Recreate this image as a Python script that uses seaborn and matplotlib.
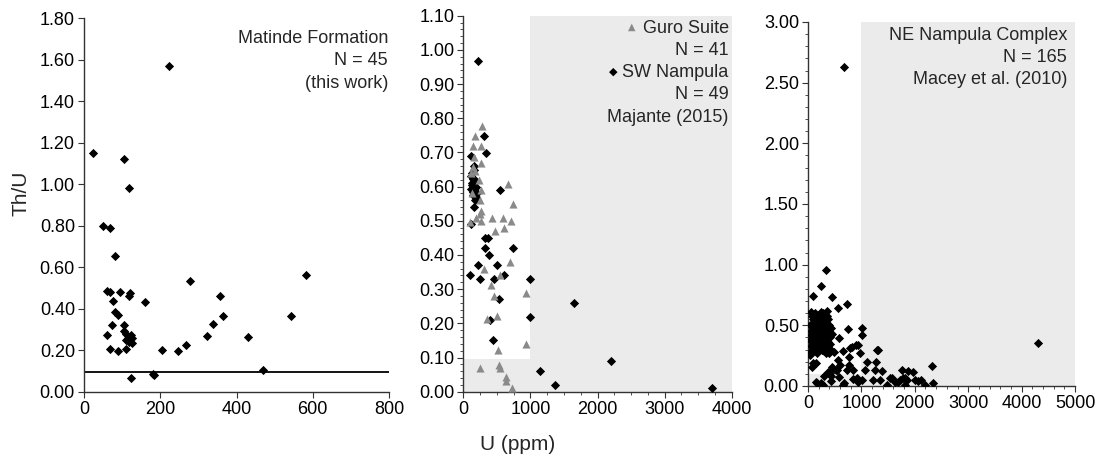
import numpy as np
import pandas as pd
import matplotlib
matplotlib.use('Agg')
import matplotlib.pyplot as plt
from matplotlib.ticker import MultipleLocator, FormatStrFormatter
import seaborn as sb

# Matinde Formation (this work)
mat_u = [24, 224, 105, 118, 49, 67, 80, 279, 581, 60, 67, 95, 117, 121, 161, 356, 76, 80, 88, 364,
         542, 73, 105, 339, 61, 105, 322, 431, 122, 125, 111, 126, 115, 267, 67, 89, 111, 205, 246,
         469, 180, 184, 124, 110, 119]
mat_thu = [1.151, 1.569, 1.12, 0.984, 0.80, 0.79, 0.654, 0.534, 0.563, 0.487, 0.48, 0.482, 0.464,
           0.476, 0.432, 0.46, 0.437, 0.384, 0.371, 0.365, 0.365, 0.321, 0.321, 0.329, 0.275, 0.292,
           0.27, 0.264, 0.275, 0.259, 0.251, 0.238, 0.262, 0.225, 0.207, 0.196, 0.207, 0.201, 0.198,
           0.108, 0.085, 0.084, 0.067, 0.28, 0.243]

# Guro Suite, Majante (2015)
guro_u = [278, 179, 144, 263, 159, 268, 114, 179, 238, 268, 661, 740, 104, 194, 263, 268, 427, 586,
          705, 472, 611, 700, 303, 547, 412, 457, 929, 353, 497, 934, 517, 253, 527, 547, 636, 631,
          726, 248, 134, 248, 149]
guro_thu = [0.778, 0.748, 0.72, 0.72, 0.687, 0.67, 0.639, 0.646, 0.619, 0.589, 0.608, 0.549, 0.497,
            0.509, 0.53, 0.50, 0.509, 0.509, 0.498, 0.47, 0.48, 0.38, 0.36, 0.34, 0.311, 0.281, 0.29,
            0.213, 0.221, 0.141, 0.121, 0.07, 0.077, 0.07, 0.042, 0.031, 0.012, 0.52, 0.58, 0.56, 0.658]

# SW Nampula, Majante (2015)
swn_u = [214, 313, 338, 114, 154, 139, 159, 114, 159, 189, 184, 542, 164, 119, 328, 363, 318, 745,
         388, 214, 507, 99, 601, 244, 457, 994, 527, 1645, 393, 989, 437, 1143, 2201, 1366, 3702,
         130, 145, 170, 125, 150, 175, 140, 165, 185, 120, 135, 160, 200, 180]
swn_thu = [0.968, 0.749, 0.699, 0.69, 0.66, 0.621, 0.611, 0.593, 0.59, 0.58, 0.57, 0.59, 0.54, 0.49,
           0.45, 0.45, 0.419, 0.42, 0.40, 0.37, 0.37, 0.341, 0.34, 0.33, 0.33, 0.33, 0.27, 0.26, 0.21,
           0.22, 0.151, 0.06, 0.09, 0.02, 0.011, 0.64, 0.6, 0.62, 0.605, 0.585, 0.595, 0.575, 0.615,
           0.6, 0.63, 0.61, 0.65, 0.58, 0.56]

# NE Nampula Complex, Macey et al. (2010)
nen_u = [40, 60, 75, 90, 100, 110, 120, 130, 60, 80, 95, 105, 115, 125, 135, 145, 155, 165, 175, 185,
         195, 205, 215, 225, 235, 245, 255, 265, 275, 285, 295, 305, 315, 325, 335, 345, 355, 365,
         375, 385, 395, 405, 415, 425, 435, 445, 50, 70, 85, 100, 120, 140, 150, 160, 170, 180, 190,
         200, 210, 220, 230, 240, 250, 260, 270, 280, 290, 300, 310, 320, 330, 340, 350, 360, 370,
         380, 400, 30, 45, 65, 110, 130, 145, 165, 190, 210, 240,
         667, 4302, 337, 249, 94, 443, 736, 556, 743, 1005, 1005, 587, 780, 905, 493, 56, 143, 81,
         762, 774, 556, 368, 524, 431, 587, 306, 150, 243, 431, 680, 930, 836, 1286, 1317, 974,
         1099, 1267, 1255, 1067, 1348, 1224, 1567, 1754, 1879, 1973, 1817, 1692, 1473, 1005, 911,
         1380, 1529, 1623, 1717, 2328, 2347, 1773, 1848, 2004, 2067, 2110, 2191, 1810, 162, 287,
         662, 818, 943, 655, 37, 100, 443, 599, 537, 724, 849, 412]
nen_thu = [0.28, 0.33, 0.38, 0.42, 0.45, 0.5, 0.55, 0.6, 0.61, 0.58, 0.55, 0.52, 0.47, 0.43, 0.4,
           0.36, 0.33, 0.3, 0.27, 0.35, 0.39, 0.44, 0.48, 0.53, 0.57, 0.61, 0.5, 0.45, 0.41, 0.37,
           0.33, 0.29, 0.36, 0.42, 0.47, 0.52, 0.58, 0.62, 0.55, 0.5, 0.45, 0.4, 0.35, 0.3, 0.48,
           0.43, 0.45, 0.5, 0.35, 0.3, 0.34, 0.46, 0.52, 0.57, 0.44, 0.49, 0.55, 0.31, 0.36, 0.41,
           0.46, 0.39, 0.34, 0.3, 0.56, 0.6, 0.52, 0.47, 0.44, 0.39, 0.33, 0.27, 0.4, 0.46, 0.36,
           0.31, 0.27, 0.38, 0.5, 0.42, 0.4, 0.48, 0.29, 0.38, 0.43, 0.5, 0.45,
           2.63, 0.357, 0.953, 0.824, 0.745, 0.731, 0.673, 0.64, 0.467, 0.481, 0.42, 0.393, 0.31,
           0.339, 0.283, 0.27, 0.187, 0.16, 0.242, 0.173, 0.214, 0.118, 0.13, 0.085, 0.071, 0.085,
           0.033, 0.025, 0.04, 0.025, 0.033, 0.06, 0.297, 0.297, 0.27, 0.2, 0.2, 0.132, 0.132, 0.05,
           0.05, 0.063, 0.132, 0.127, 0.118, 0.07, 0.036, 0.01, 0.05, 0.063, 0.126, 0.062, 0.035,
           0.049, 0.165, 0.027, 0.065, 0.052, 0.047, 0.038, 0.052, 0.011, 0.011, 0.022, 0.008,
           0.008, 0.324, 0.338, 0.29, 0.255, 0.186, 0.16, 0.173, 0.135, 0.135, 0.135, 0.11]

U_CUT = 1000
THU_CUT = 0.096

sb.set_style('ticks')
plt.rcParams['font.family'] = ['Liberation Sans', 'DejaVu Sans']
plt.rcParams['font.size'] = 13
plt.rcParams['axes.edgecolor'] = '#333333'
plt.rcParams['xtick.major.size'] = 4.5
plt.rcParams['ytick.major.size'] = 4.5
plt.rcParams['xtick.minor.size'] = 2.2
plt.rcParams['ytick.minor.size'] = 2.2
plt.rcParams['xtick.color'] = '#333333'
plt.rcParams['ytick.color'] = '#333333'
plt.rcParams['xtick.labelcolor'] = 'black'
plt.rcParams['ytick.labelcolor'] = 'black'

W, H = 1099, 459
fig = plt.figure(figsize=(W / 100, H / 100), dpi=100)

def box(l, r, t, b):
    return [l / W, (H - b) / H, (r - l) / W, (b - t) / H]

ax1 = fig.add_axes(box(84, 389, 18, 392))
ax2 = fig.add_axes(box(463.3, 731.7, 15.7, 391.7))
ax3 = fig.add_axes(box(808, 1075, 22, 386))

shade = '#ebebeb'
grey = '#8a8a8a'
dia = dict(marker='D', s=22, color='black', linewidth=0)
tri = dict(marker='^', s=34, color=grey, linewidth=0)

# panel 1
df1 = pd.DataFrame({'U': mat_u, 'ThU': mat_thu})
sb.scatterplot(data=df1, x='U', y='ThU', ax=ax1, zorder=3, **dia)
ax1.axhline(THU_CUT, color='black', lw=1.3, zorder=2)
ax1.set_xlim(0, 800)
ax1.set_ylim(0, 1.8)
ax1.xaxis.set_major_locator(MultipleLocator(200))
ax1.yaxis.set_major_locator(MultipleLocator(0.2))

# panel 2
df_g = pd.DataFrame({'U': guro_u, 'ThU': guro_thu})
df_s = pd.DataFrame({'U': swn_u, 'ThU': swn_thu})
ax2.set_xlim(0, 4000)
ax2.set_ylim(0, 1.1)
ax2.axvspan(U_CUT, 4000, color=shade, lw=0, zorder=0)
ax2.fill_between([0, U_CUT], 0, THU_CUT, color=shade, lw=0, zorder=0)
sb.scatterplot(data=df_s, x='U', y='ThU', ax=ax2, zorder=3, **dia)
sb.scatterplot(data=df_g, x='U', y='ThU', ax=ax2, zorder=4, **tri)
ax2.xaxis.set_major_locator(MultipleLocator(1000))
ax2.xaxis.set_minor_locator(MultipleLocator(250))
ax2.yaxis.set_major_locator(MultipleLocator(0.1))
ax2.yaxis.set_minor_locator(MultipleLocator(0.02))

# panel 3
df3 = pd.DataFrame({'U': nen_u, 'ThU': nen_thu})
ax3.set_xlim(0, 5000)
ax3.set_ylim(0, 3.0)
ax3.axvspan(U_CUT, 5000, color=shade, lw=0, zorder=0)
ax3.fill_between([0, U_CUT], 0, THU_CUT, color=shade, lw=0, zorder=0)
sb.scatterplot(data=df3, x='U', y='ThU', ax=ax3, zorder=3, **dia)
ax3.xaxis.set_major_locator(MultipleLocator(1000))
ax3.xaxis.set_minor_locator(MultipleLocator(200))
ax3.yaxis.set_major_locator(MultipleLocator(0.5))
ax3.yaxis.set_minor_locator(MultipleLocator(0.1))

for ax in (ax1, ax2, ax3):
    ax.set_xlabel('')
    ax.set_ylabel('')
    ax.yaxis.set_major_formatter(FormatStrFormatter('%.2f'))
    ax.tick_params(labelsize=13, pad=2)
    for sp in ('top', 'right'):
        ax.spines[sp].set_visible(False)
    ax.spines['left'].set_linewidth(1)
    ax.spines['bottom'].set_linewidth(1)
    ax.set_facecolor('white')

def note(ax, txt, dx, dy, **kw):
    ax.annotate(txt, xy=(1, 1), xycoords='axes fraction', textcoords='offset pixels',
                xytext=(dx, -dy), ha='right', va='center', fontsize=13, **kw)

for i, t in enumerate(['Matinde Formation', 'N = 45', '(this work)']):
    note(ax1, t, -1, 20 + 22.5 * i)

for i, t in enumerate(['Guro Suite', 'N = 41', 'SW Nampula', 'N = 49', 'Majante (2015)']):
    note(ax2, t, -3, 12.5 + 22.2 * i)
ax2.annotate('\u25B2', xy=(1, 1), xycoords='axes fraction', textcoords='offset pixels',
             xytext=(-100, -11), ha='center', va='center', fontsize=7, color=grey,
             family='DejaVu Sans')
ax2.annotate('\u25C6', xy=(1, 1), xycoords='axes fraction', textcoords='offset pixels',
             xytext=(-118, -56), ha='center', va='center', fontsize=8, color='black',
             family='DejaVu Sans')

for i, t in enumerate(['NE Nampula Complex', 'N = 165', 'Macey et al. (2010)']):
    note(ax3, t, -8, 13 + 22 * i)

fig.text(21 / W, (H - 193) / H, 'Th/U', rotation=90, ha='center', va='center', fontsize=15)
fig.text(518 / W, (H - 445) / H, 'U (ppm)', ha='center', va='center', fontsize=15)

fig.savefig('out.png', dpi=100)
